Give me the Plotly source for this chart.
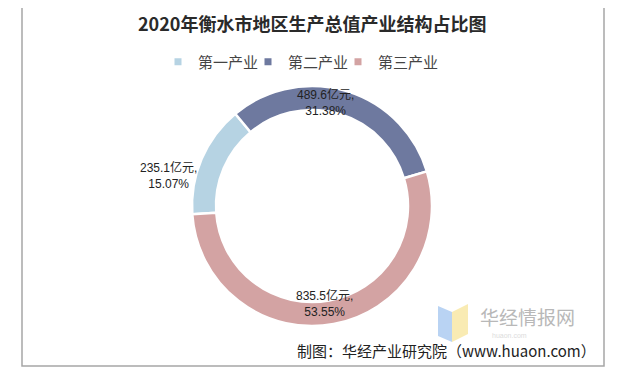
import plotly.graph_objects as go

categories = ["第一产业", "第二产业", "第三产业"]
values = [235.1, 489.6, 835.5]
shares = [15.07, 31.38, 53.55]
colors = ["#b6d3e3", "#6e799f", "#d3a3a3"]
title_text = "2020年衡水市地区生产总值产业结构占比图"
source_text = "制图：华经产业研究院（www.huaon.com）"

# page has an 8px body margin; work in page pixels and convert
OFF = 8
W, H = 618 - OFF, 378 - OFF


def px(x):
    return (x - OFF) / W


def py(y):
    return 1 - (y - OFF) / H


cx, cy, r = 312, 206, 120

fig = go.Figure()
fig.add_trace(go.Pie(
    labels=categories, values=values, sort=False, direction="clockwise",
    rotation=266, hole=0.8, showlegend=False,
    marker=dict(colors=colors, line=dict(color="white", width=2.5)),
    textinfo="none", hoverinfo="label+value+percent",
    domain=dict(x=[px(cx - r), px(cx + r)], y=[py(cy + r), py(cy - r)]),
))

# legend entries (small square markers like the reference)
legend_widths = [45, 45, 66]
for cat, col, lw in zip(categories, colors, legend_widths):
    fig.add_trace(go.Scatter(x=[None], y=[None], mode="markers", name=cat,
                             marker=dict(symbol="square", size=7, color=col),
                             legendwidth=lw, showlegend=True, hoverinfo="skip"))

# data labels
label_pos = [(168, 175), (325, 102), (324, 303)]
for (lx, ly), v, s in zip(label_pos, values, shares):
    fig.add_annotation(x=px(lx), y=py(ly), xref="paper", yref="paper",
                       xanchor="center", yanchor="middle",
                       text=f"{v}亿元,<br>{s:.2f}%", showarrow=False,
                       font=dict(size=12, color="#222222", family="Liberation Sans, Noto Sans CJK SC"),
                       align="center")

fig.add_annotation(x=px(312), y=py(23), xref="paper", yref="paper",
                   xanchor="center", yanchor="middle",
                   text=f"<b>{title_text}</b>", showarrow=False,
                   font=dict(size=18, color="#2a2a2a", family="Noto Sans CJK SC"))

fig.add_annotation(x=px(598), y=py(350), xref="paper", yref="paper",
                   xanchor="right", yanchor="middle",
                   text=source_text, showarrow=False,
                   font=dict(size=15, color="#222222", family="Noto Sans CJK SC"))

# watermark
fig.add_annotation(x=px(478), y=py(316), xref="paper", yref="paper",
                   xanchor="left", yanchor="middle",
                   text="华经情报网", showarrow=False,
                   font=dict(size=19, color="#b8b8b8", family="Noto Sans CJK SC"))
fig.add_annotation(x=px(490), y=py(335), xref="paper", yref="paper",
                   xanchor="left", yanchor="middle",
                   text="huaon.com", showarrow=False,
                   font=dict(size=7, color="#dcdcdc", family="Liberation Sans"))
fig.add_shape(type="path", xref="paper", yref="paper",
              path=f"M {px(438)} {py(306)} L {px(452)} {py(312)} L {px(452)} {py(342)} L {px(438)} {py(336)} Z",
              fillcolor="#a8c8f0", line=dict(width=0), opacity=0.8)
fig.add_shape(type="path", xref="paper", yref="paper",
              path=f"M {px(452)} {py(312)} L {px(468)} {py(304)} L {px(468)} {py(334)} L {px(452)} {py(342)} Z",
              fillcolor="#f8e6a0", line=dict(width=0), opacity=0.8)

# border
fig.add_shape(type="rect", xref="paper", yref="paper",
              x0=px(22), x1=px(604), y0=py(366), y1=py(4),
              line=dict(color="#a6a6a6", width=1.5))

fig.update_layout(
    width=W, height=H, margin=dict(l=0, r=0, t=0, b=0),
    paper_bgcolor="white", plot_bgcolor="white",
    xaxis=dict(visible=False), yaxis=dict(visible=False),
    showlegend=True,
    legend=dict(orientation="h", x=px(158), xanchor="left", y=py(62), yanchor="middle",
                font=dict(size=15, color="#444444", family="Noto Sans CJK SC"),
                itemwidth=30, traceorder="normal"),
)

fig.write_html("out.html")
